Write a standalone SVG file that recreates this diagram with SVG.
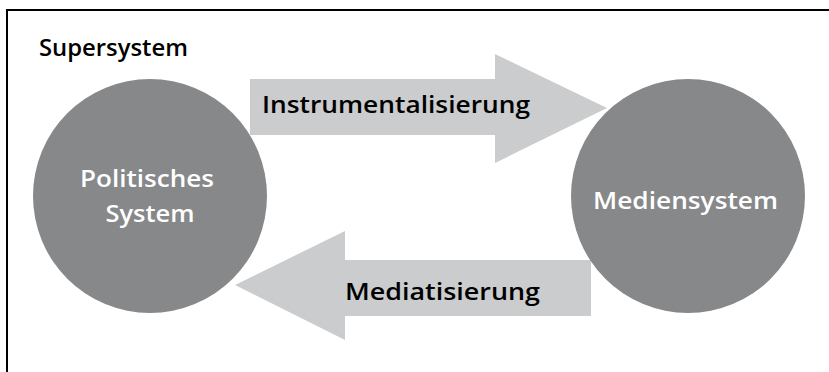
<svg xmlns="http://www.w3.org/2000/svg" width="829" height="372" viewBox="0 0 829 372">
<style>
.circ{fill:#87888a}
.arr{fill:#cbcccd}
.t{font-family:"Open Sans","Noto Sans","Liberation Sans",sans-serif;font-weight:600;font-size:24px}
.w{fill:#ffffff}
.k{fill:#000000}
</style>
<rect width="829" height="372" fill="#ffffff"/>
<path d="M7,372 V10 H829" fill="none" stroke="#000" stroke-width="2"/>
<text class="t k" x="39" y="56" textLength="149" lengthAdjust="spacingAndGlyphs">Supersystem</text>
<g id="connectors">
<g id="instrumentalisierung">
<polygon class="arr" points="250,79 495,79 495,54 607,108 495,163 495,135 250,135"/>
<text class="t k" x="262" y="113" textLength="268" lengthAdjust="spacingAndGlyphs">Instrumentalisierung</text>
</g>
<g id="mediatisierung">
<polygon class="arr" points="591,260 345,260 345,231 235,285 345,340 345,316 591,316"/>
<text class="t k" x="345" y="300" textLength="195" lengthAdjust="spacingAndGlyphs">Mediatisierung</text>
</g>
</g>
<g id="politisches-system">
<circle class="circ" cx="150" cy="196" r="117"/>
<text class="t w" text-anchor="middle" x="147" y="187" textLength="134" lengthAdjust="spacingAndGlyphs">Politisches</text>
<text class="t w" text-anchor="middle" x="150" y="222" textLength="89" lengthAdjust="spacingAndGlyphs">System</text>
</g>
<g id="mediensystem">
<circle class="circ" cx="688" cy="196" r="117"/>
<text class="t w" text-anchor="middle" x="685.5" y="209" textLength="185" lengthAdjust="spacingAndGlyphs">Mediensystem</text>
</g>
</svg>
